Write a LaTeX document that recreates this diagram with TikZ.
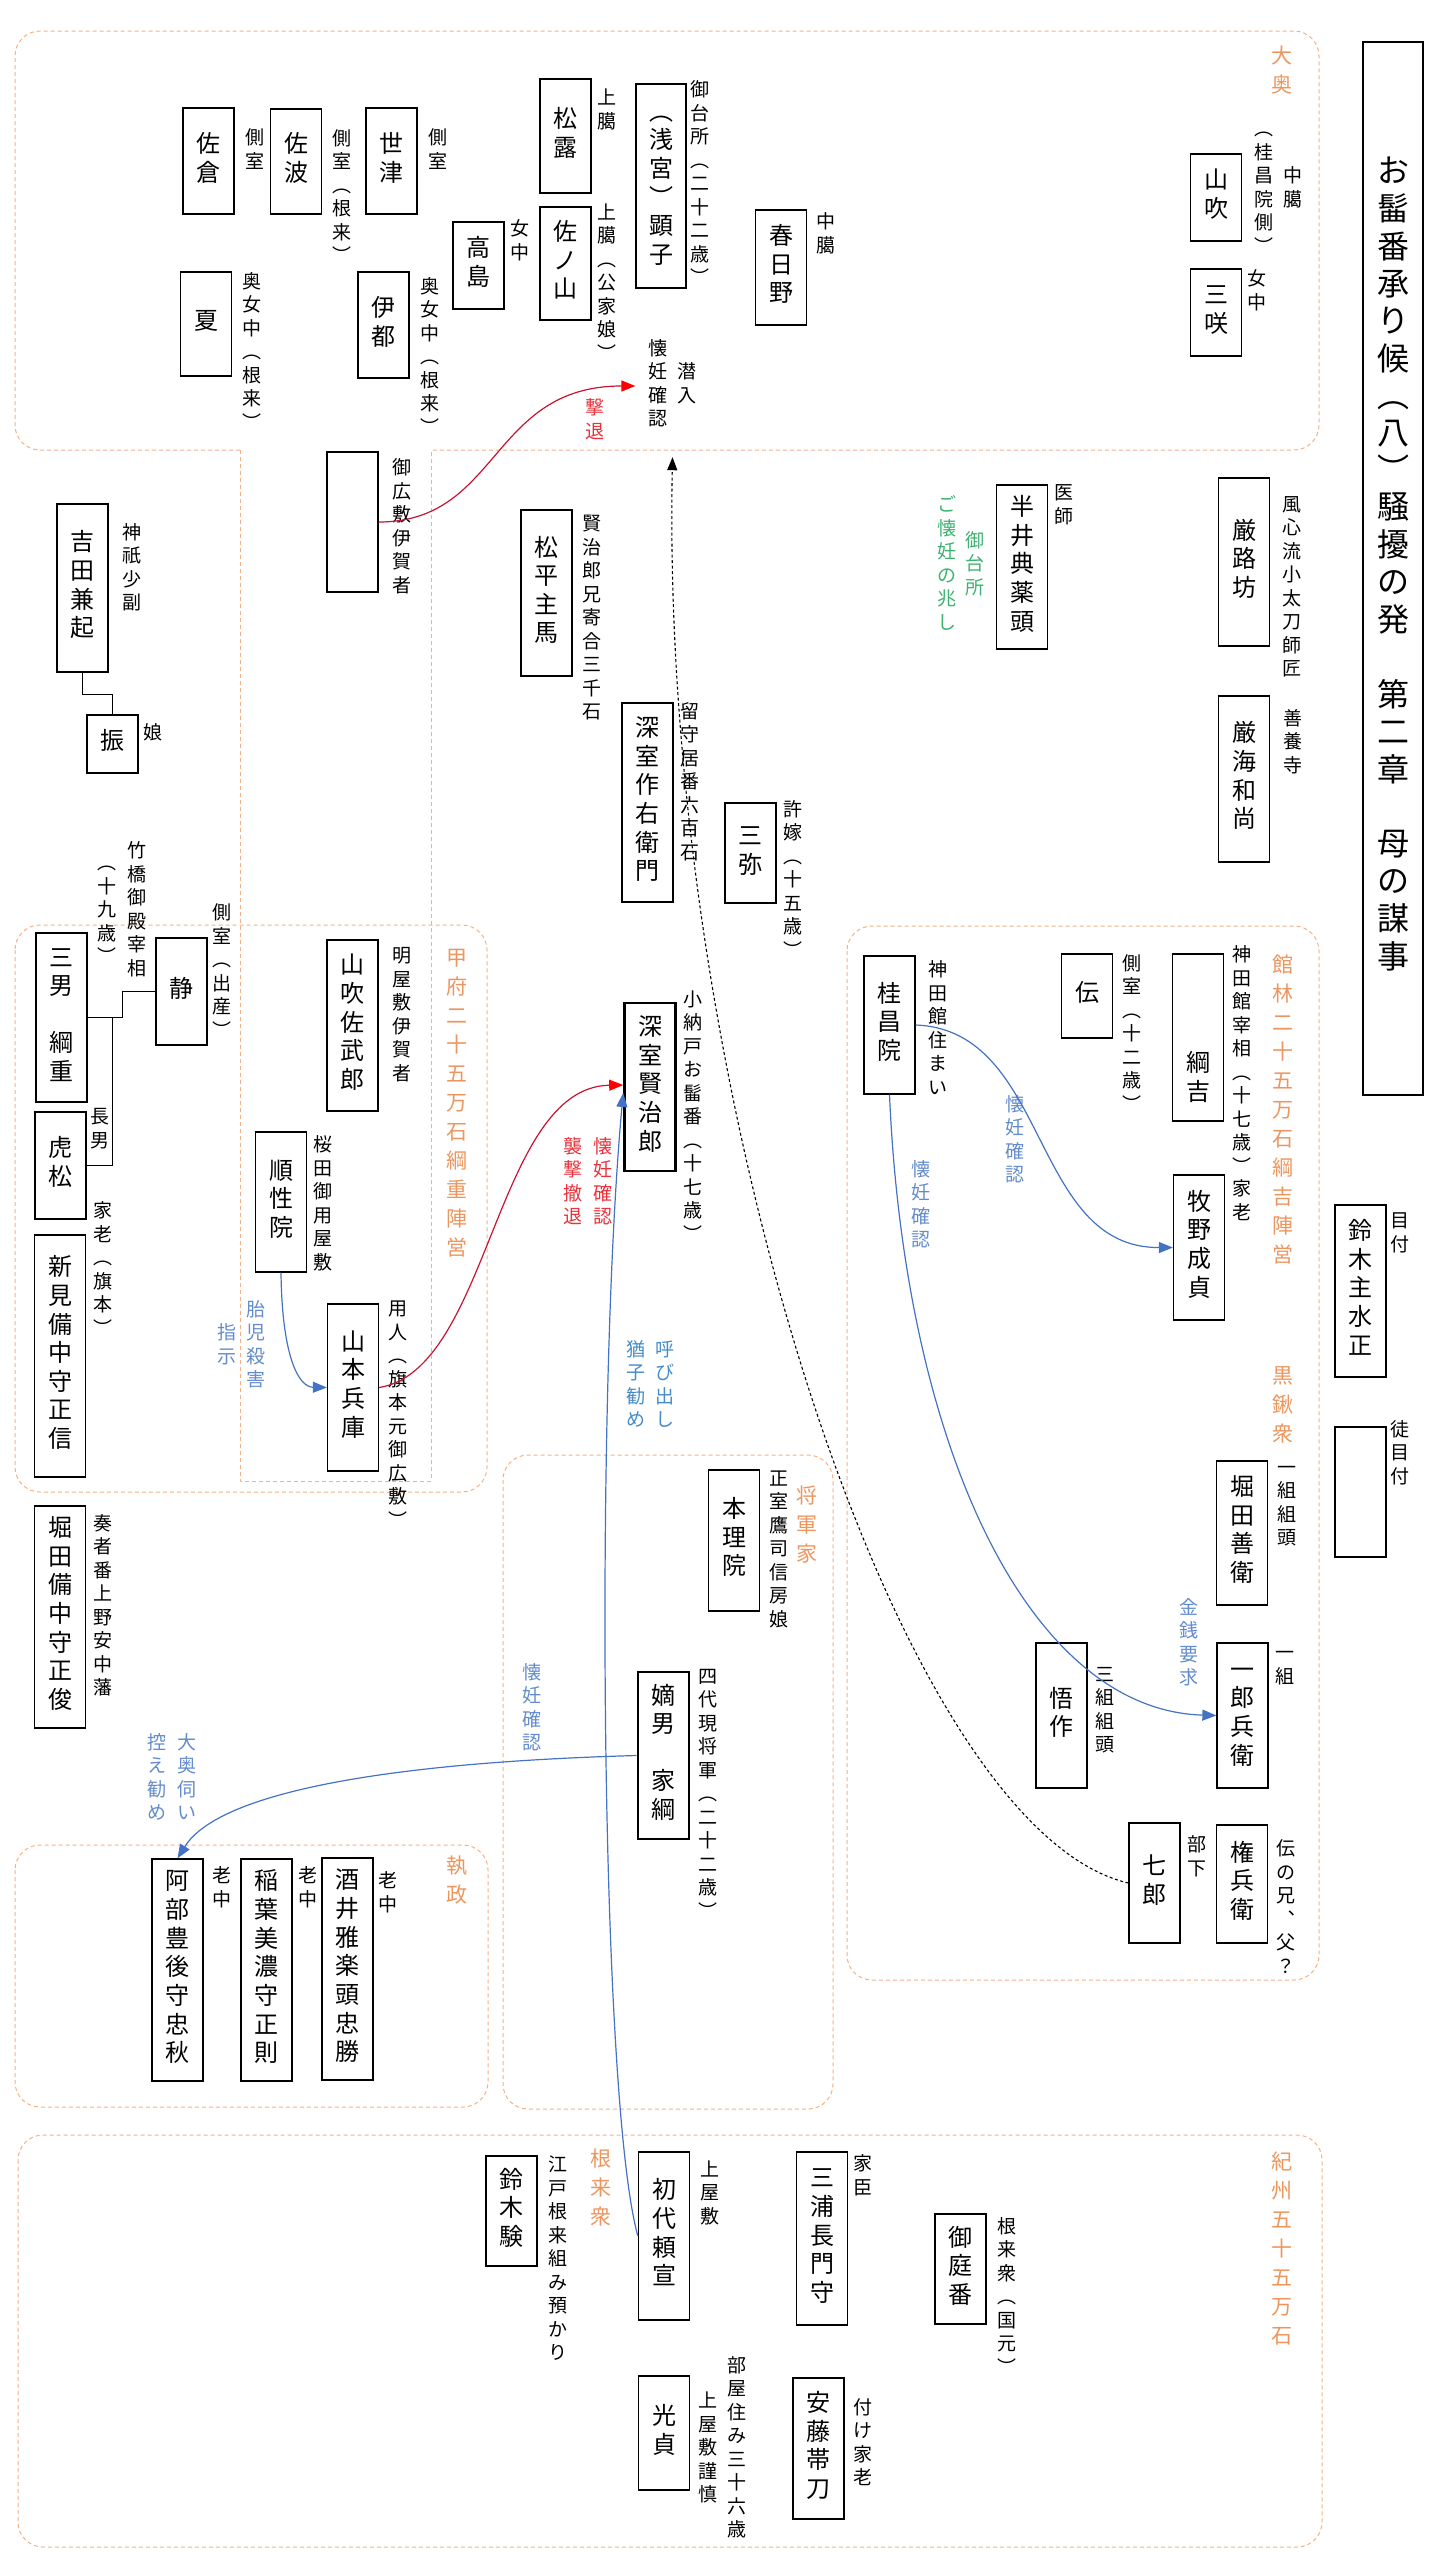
\documentclass[tikz,border=0pt]{standalone}
\usepackage{fontspec}
\usepackage{xcolor}
\usepackage{tikz}
\usetikzlibrary{arrows.meta}

\newfontfamily\jpfont{Noto Sans CJK JP}

\definecolor{wakuiro}{RGB}{244,177,131}
\definecolor{kumiiro}{RGB}{236,150,95}
\definecolor{akasen}{RGB}{200,20,50}
\definecolor{akaji}{RGB}{232,50,60}
\definecolor{aosen}{RGB}{68,114,196}
\definecolor{aoji}{RGB}{100,140,205}
\definecolor{aoji2}{RGB}{70,140,200}
\definecolor{midori}{RGB}{60,179,113}

% 縦書き: 一文字ずつ積む
\ExplSyntaxOn
\tl_new:N \l__tate_tl
\NewDocumentCommand \tate { m }
  {
    \tl_clear:N \l__tate_tl
    \tl_map_inline:nn {#1}
      {
        \tl_if_empty:NF \l__tate_tl { \tl_put_right:Nn \l__tate_tl { \\ } }
        \tl_put_right:Nn \l__tate_tl {##1}
      }
    \begin{tabular}{@{}c@{}} \l__tate_tl \end{tabular}
  }
\ExplSyntaxOff

\begin{document}
\begin{tikzpicture}[x=1pt,y=-1pt,
   hito/.style={draw,fill=white,line width=1.3pt,minimum width=51pt,inner sep=0pt,
     font=\jpfont\fontsize{24}{28.5}\selectfont},
   shuyaku/.style={hito,line width=2.6pt},
   yaku/.style={inner sep=0pt,font=\jpfont\fontsize{19}{23.5}\selectfont},
   kumi/.style={inner sep=0pt,text=kumiiro,font=\jpfont\fontsize{21}{29}\selectfont},
   waku/.style={draw=wakuiro,line width=1pt,dash pattern=on 4pt off 3pt,rounded corners=25pt},
   akaya/.style={draw=akasen,line width=1.2pt,-{Triangle[length=14pt,width=11pt,color=red]}},
   aoya/.style={draw=aosen,line width=1.2pt,-{Triangle[length=14pt,width=11pt]}},
   tenya/.style={draw=black,line width=1.1pt,dash pattern=on 3pt off 2.5pt,-{Triangle[length=13pt,width=10pt]}},
   sen/.style={draw=black,line width=1.3pt}]

  \useasboundingbox (0,0) rectangle (1436,2570);

  % frames
  \draw[waku] (240,450) -- (15,450) -- (15,31) -- (1319,31) -- (1319,450) -- (431,450);
  \draw[waku,sharp corners] (240,450) -- (240,1481) -- (431,1481) -- (431,450);
  \draw[waku] (15,925) rectangle (487,1492);
  \draw[waku] (847,926) rectangle (1319,1980);
  \draw[waku] (503,1455) rectangle (833,2109);
  \draw[waku] (15,1845) rectangle (488,2107);
  \draw[waku] (18,2135) rectangle (1322,2547);

  \node[draw,line width=1.3pt,minimum width=60pt,minimum height=1053pt,inner sep=0pt,
    font=\jpfont\fontsize{32}{37}\selectfont] (daimei) at (1393,568.5)
    {\tate{お髷番承り候︵八︶騒擾の発　第二章　母の謀事}};

  % 大奥
  \node[kumi] (ooku) at (1282,72) {\tate{大奥}};
  \node[hito,minimum height=106pt] (sakura) at (208.5,161) {\tate{佐倉}};
  \node[yaku] (l_sakura) at (255,152) {\tate{側室}};
  \node[hito,minimum height=105pt] (saha) at (296,161.5) {\tate{佐波}};
  \node[yaku] (l_saha) at (342,199.5) {\tate{側室︵根来︶}};
  \node[hito,minimum height=106pt] (setsu) at (391.5,161) {\tate{世津}};
  \node[yaku] (l_setsu) at (438,152) {\tate{側室}};
  \node[hito,minimum height=104pt] (natsu) at (206,324) {\tate{夏}};
  \node[yaku] (l_natsu) at (252,354) {\tate{奥女中︵根来︶}};
  \node[hito,minimum height=106pt] (ito) at (383.5,325) {\tate{伊都}};
  \node[yaku] (l_ito) at (430,359) {\tate{奥女中︵根来︶}};
  \node[hito,minimum height=87pt] (takashima) at (478.5,265.5) {\tate{高島}};
  \node[yaku] (l_takashima) at (520,243) {\tate{女中}};
  \node[hito,minimum height=114pt] (matsutsuyu) at (565.5,136) {\tate{松露}};
  \node[yaku] (l_matsutsuyu) at (607,112) {\tate{上臈}};
  \node[hito,minimum height=113pt] (sanoyama) at (565.5,263.5) {\tate{佐ノ山}};
  \node[yaku] (l_sanoyama) at (607,285) {\tate{上臈︵公家娘︶}};
  \node[hito,minimum height=204pt,minimum width=50pt] (akiko) at (661,186) {\tate{︵浅宮︶顕子}};
  \node[yaku] (l_akiko) at (700,186) {\tate{御台所︵二十二歳︶}};
  \node[hito,minimum height=115pt] (kasugano) at (781,267.5) {\tate{春日野}};
  \node[yaku] (l_kasugano) at (826,236) {\tate{中臈}};
  \node[hito,minimum height=87pt] (yamabuki) at (1216,197.5) {\tate{山吹}};
  \node[yaku] (l_yamabuki) at (1278.5,190) {\tate{︵桂昌院側︶}\hspace{10pt}\tate{中臈}};
  \node[hito,minimum height=87pt] (misaki) at (1216,312.5) {\tate{三咲}};
  \node[yaku] (l_misaki) at (1257,293) {\tate{女中}};
  \node[yaku] (kainin) at (672.5,386) {\tate{懐妊確認}\hspace{10pt}\tate{潜入}};
  \node[yaku,text=akaji] (l_gekitai) at (595,422) {\tate{撃退}};

  % 御広敷 and others
  \node[hito,minimum height=140pt] (hiroshiki) at (352.5,522) {};
  \node[yaku] (l_hiroshiki) at (402,529) {\tate{御広敷伊賀者}};
  \node[hito,minimum height=166pt] (matsudaira) at (546.5,593) {\tate{松平主馬}};
  \node[yaku] (l_matsudaira) at (592,620) {\tate{賢治郎兄寄合三千石}};
  \node[yaku,text=midori] (l_midai) at (961,566) {\tate{ご懐妊の兆し}\hspace{9pt}\tate{御台所}};
  \node[hito,minimum height=164pt] (nakarai) at (1022,567) {\tate{半井典薬頭}};
  \node[yaku] (l_nakarai) at (1064,507) {\tate{医師}};
  \node[hito,minimum height=168pt] (ganro) at (1244,562) {\tate{厳路坊}};
  \node[yaku] (l_ganro) at (1292,589) {\tate{風心流小太刀師匠}};
  \node[hito,minimum height=166pt] (gankai) at (1244,779) {\tate{厳海和尚}};
  \node[yaku] (l_gankai) at (1293,744) {\tate{善養寺}};
  \node[hito,minimum height=168pt] (yoshida) at (82.5,588) {\tate{吉田兼起}};
  \node[yaku] (l_yoshida) at (132,570) {\tate{神祇少副}};
  \node[hito,minimum height=58pt] (furi) at (112.5,744) {\tate{振}};
  \node[yaku] (l_furi) at (153,735) {\tate{娘}};

  % 甲府
  \node[kumi] (kofu) at (457,1105) {\tate{甲府二十五万石綱重陣営}};
  \node[yaku] (l_takehashi) at (122,912) {\tate{︵十九歳︶}\hspace{11pt}\tate{竹橋御殿宰相}};
  \node[hito,minimum height=169pt] (tsunashige) at (61.5,1017.5) {\tate{三男　綱重}};
  \node[hito,minimum height=107pt] (shizu) at (181.5,991.5) {\tate{静}};
  \node[yaku] (l_shizu) at (222,974) {\tate{側室︵出産︶}};
  \node[hito,minimum height=107pt] (toramatsu) at (60.5,1165.5) {\tate{虎松}};
  \node[yaku] (l_chonan) at (100,1131) {\tate{長男}};
  \node[hito,minimum height=242pt] (niimi) at (60,1356) {\tate{新見備中守正信}};
  \node[yaku] (l_niimi) at (103,1272) {\tate{家老︵旗本︶}};
  \node[hito,minimum height=171pt] (sabuuro) at (352.5,1025.5) {\tate{山吹佐武郎}};
  \node[yaku] (l_sabuuro) at (402,1017) {\tate{明屋敷伊賀者}};
  \node[hito,minimum height=140pt] (junshoin) at (281,1202) {\tate{順性院}};
  \node[yaku] (l_junshoin) at (323,1206) {\tate{桜田御用屋敷}};
  \node[hito,minimum height=167pt] (yamamoto) at (353,1387.5) {\tate{山本兵庫}};
  \node[yaku] (l_yamamoto) at (398,1417) {\tate{用人︵旗本元御広敷︶}};
  \node[yaku,text=aoji] (l_taiji) at (241.5,1347) {\tate{指示}\hspace{10pt}\tate{胎児殺害}};
  \node[hito,minimum height=222pt] (hotta) at (60,1617) {\tate{堀田備中守正俊}};
  \node[yaku] (l_hotta) at (103,1608) {\tate{奏者番上野安中藩}};

  % 深室家
  \node[hito,minimum height=199pt] (sakuemon) at (647.5,802.5) {\tate{深室作右衛門}};
  \node[yaku] (l_sakuemon) at (690,784) {\tate{留守居番六百石}};
  \node[hito,minimum height=100pt] (miya) at (750.5,853) {\tate{三弥}};
  \node[yaku] (l_miya) at (793,882) {\tate{許嫁︵十五歳︶}};
  \node[shuyaku,minimum height=168pt] (kenjiro) at (650,1087) {\tate{深室賢治郎}};
  \node[yaku] (l_kenjiro) at (693,1119) {\tate{小納戸お髷番︵十七歳︶}};
  \node[yaku,text=akaji] (l_shugeki) at (588,1184) {\tate{襲撃撤退}\hspace{11pt}\tate{懐妊確認}};
  \node[yaku,text=aoji2] (l_yobidashi) at (650.5,1387) {\tate{猶子勧め}\hspace{10pt}\tate{呼び出し}};

  % 館林
  \node[kumi] (tatebayashi) at (1283,1112) {\tate{館林二十五万石綱吉陣営}};
  \node[hito,minimum height=138pt] (keishoin) at (889.5,1025) {\tate{桂昌院}};
  \node[yaku] (l_keishoin) at (938,1031) {\tate{神田館住まい}};
  \node[hito,minimum height=84pt] (den) at (1087,996) {\tate{伝}};
  \node[yaku] (l_den) at (1132,1036) {\tate{側室︵十二歳︶}};
  \node[hito,minimum height=167pt] (tsunayoshi) at (1198,1037.5) {\tate{　　　綱吉}};
  \node[yaku] (l_tsunayoshi) at (1242,1063) {\tate{神田館宰相︵十七歳︶}};
  \node[hito,minimum height=145pt] (makino) at (1199,1247.5) {\tate{牧野成貞}};
  \node[yaku] (l_makino) at (1242,1203) {\tate{家老}};
  \node[yaku,text=aoji] (l_kaininB) at (1015,1142) {\tate{懐妊確認}};
  \node[yaku,text=aoji] (l_kaininC) at (921,1207) {\tate{懐妊確認}};
  \node[kumi] (kurokuwa) at (1283,1407) {\tate{黒鍬衆}};
  \node[hito,minimum height=144pt] (zenei) at (1242,1533) {\tate{堀田善衛}};
  \node[yaku] (l_zenei) at (1287,1505) {\tate{一組組頭}};
  \node[yaku,text=aoji] (l_kinsen) at (1189,1645) {\tate{金銭要求}};
  \node[hito,minimum height=145pt] (gosaku) at (1061.5,1715.5) {\tate{悟作}};
  \node[yaku] (l_gosaku) at (1105,1712) {\tate{三組組頭}};
  \node[hito,minimum height=145pt] (ichiro) at (1242.5,1715.5) {\tate{一郎兵衛}};
  \node[yaku] (l_ichiro) at (1285,1667) {\tate{一組}};
  \node[hito,minimum height=120pt] (shichiro) at (1154.5,1883) {\tate{七郎}};
  \node[yaku] (l_shichiro) at (1197,1859) {\tate{部下}};
  \node[hito,minimum height=118pt] (gonbei) at (1242,1884) {\tate{権兵衛}};
  \node[yaku] (l_gonbei) at (1286,1910) {\tate{伝の兄︑父？}};

  % 目付
  \node[hito,minimum height=172pt] (suzuki) at (1360.5,1291) {\tate{鈴木主水正}};
  \node[yaku] (l_suzuki) at (1400,1235) {\tate{目付}};
  \node[hito,minimum height=130pt] (kachi) at (1360.5,1492) {};
  \node[yaku] (l_kachi) at (1400,1455) {\tate{徒目付}};

  % 将軍家
  \node[kumi] (shogunke) at (807,1527) {\tate{将軍家}};
  \node[hito,minimum height=141pt] (honri) at (734,1540.5) {\tate{本理院}};
  \node[yaku] (l_honri) at (779,1551) {\tate{正室鷹司信房娘}};
  \node[shuyaku,minimum height=167pt] (ietsuna) at (663.5,1755.5) {\tate{嫡男　家綱}};
  \node[yaku] (l_ietsuna) at (708,1796) {\tate{四代現将軍︵二十二歳︶}};
  \node[yaku,text=aoji] (l_kaininD) at (532,1710) {\tate{懐妊確認}};

  % 執政
  \node[kumi] (shissei) at (457,1882) {\tate{執政}};
  \node[yaku,text=aoji] (l_ukagai) at (172,1780) {\tate{控え勧め}\hspace{11pt}\tate{大奥伺い}};
  \node[hito,minimum height=222pt] (abe) at (177.5,1970) {\tate{阿部豊後守忠秋}};
  \node[hito,minimum height=222pt] (inaba) at (266.5,1970) {\tate{稲葉美濃守正則}};
  \node[hito,minimum height=222pt] (sakai) at (347.5,1969) {\tate{酒井雅楽頭忠勝}};
  \foreach \x/\y in {222/1890,308/1890,388/1895}
    \node[yaku] (roju\x) at (\x,\y) {\tate{老中}};

  % 紀州
  \node[kumi] (kishu) at (1282,2251) {\tate{紀州五十五万石}};
  \node[kumi] (negoro) at (601,2190) {\tate{根来衆}};
  \node[hito,minimum height=110pt] (suzukiken) at (511.5,2211) {\tate{鈴木験}};
  \node[yaku] (l_suzukiken) at (558,2261) {\tate{江戸根来組み預かり}};
  \node[hito,minimum height=168pt] (yorinobu) at (664,2236) {\tate{初代頼宣}};
  \node[yaku] (l_yorinobu) at (710,2195) {\tate{上屋敷}};
  \node[hito,minimum height=173pt] (miura) at (822,2238.5) {\tate{三浦長門守}};
  \node[yaku] (l_miura) at (863,2178) {\tate{家臣}};
  \node[hito,minimum height=110pt] (oniwa) at (960.5,2269) {\tate{御庭番}};
  \node[yaku] (l_oniwa) at (1007,2299) {\tate{根来衆︵国元︶}};
  \node[hito,minimum height=114pt] (mitsusada) at (664,2433) {\tate{光貞}};
  \node[yaku] (l_mitsusada) at (722.5,2450) {\tate{上屋敷謹慎}\hspace{10pt}\tate{部屋住み三十六歳}};
  \node[hito,minimum height=141pt] (ando) at (818.5,2448.5) {\tate{安藤帯刀}};
  \node[yaku] (l_ando) at (863,2445) {\tate{付け家老}};

  % connectors
  \draw[sen] (yoshida.south) -- ++(0,22) -| (furi.north);
  \draw[sen] (tsunashige.east) -- ++(35,0) |- (shizu.west);
  \draw[sen] ([xshift=25pt]tsunashige.east) |- (toramatsu.east);

  \draw[akaya] (hiroshiki.east) .. controls (500,522) and (490,386) .. ([xshift=-13pt]kainin.west);
  \draw[akaya] (yamamoto.east) .. controls (490,1370) and (495,1087) .. ([yshift=2pt]kenjiro.west);
  \draw[aoya] (yorinobu.west) .. controls (600,2100) and (595,1400) .. ([yshift=-6pt]kenjiro.west);
  \draw[aoya] (junshoin.south) .. controls (282,1355) and (298,1387) .. (yamamoto.west);
  \draw[aoya] (ietsuna.west) .. controls (400,1762) and (220,1790) .. (abe.north);
  \draw[aoya] (keishoin.east) .. controls (1050,1030) and (1030,1248) .. (makino.west);
  \draw[aoya] (keishoin.south) .. controls (905,1450) and (1030,1710) .. (ichiro.west);
  \draw[tenya] (shichiro.west) .. controls (900,1830) and (660,1100) .. ([yshift=-24pt]kainin.south);
\end{tikzpicture}
\end{document}
